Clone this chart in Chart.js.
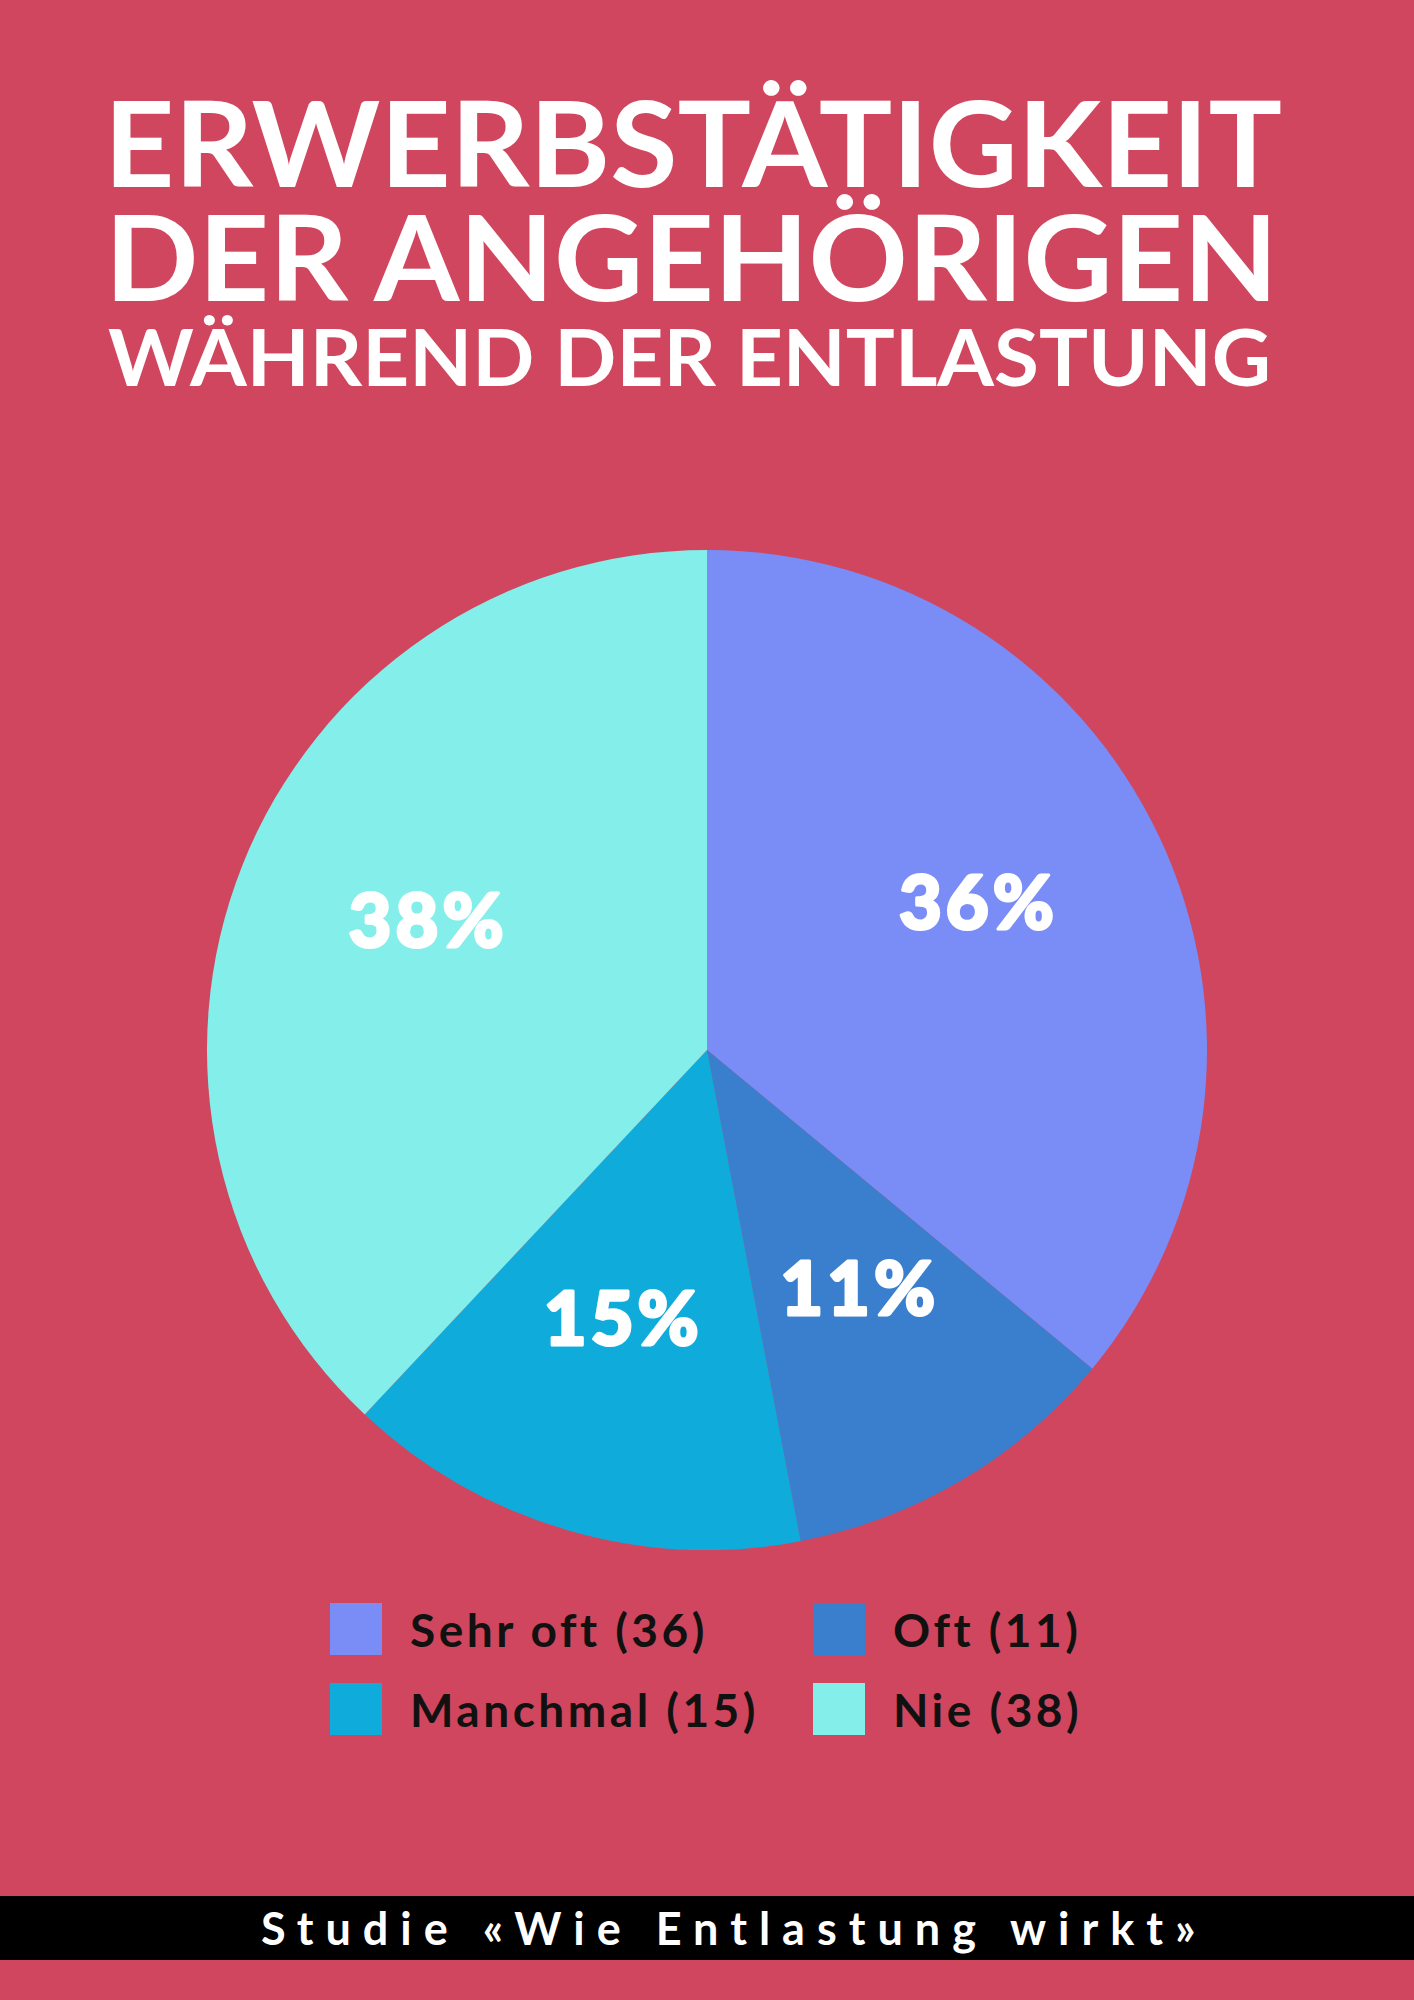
<!DOCTYPE html>
<html lang="de">
<head>
<meta charset="utf-8">
<title>Erwerbstätigkeit der Angehörigen während der Entlastung</title>
<script src="https://cdn.jsdelivr.net/npm/chart.js@4.4.1/dist/chart.umd.min.js"></script>
<style>
    html, body { margin: 0; padding: 0; }
    body {
        width: 1414px; height: 2000px; position: relative; overflow: hidden;
        background: #D0465E; font-family: Lato, 'Open Sans', sans-serif;
    }
    .title-line {
        position: absolute; left: 0; color: #fff; font-weight: 700;
        white-space: nowrap; line-height: 1; transform-origin: 0 0;
    }
    #chartBox { position: absolute; left: 207px; top: 550px; width: 1000px; height: 1000px; }
    .legend-item { position: absolute; height: 52px; display: flex; align-items: center; }
    .legend-item .box { width: 52px; height: 52px; margin-right: 28px; }
    .legend-item span {
        font-size: 46px; font-weight: 700; color: #111; white-space: nowrap; letter-spacing: 3.5px;
    }
    #footer {
        position: absolute; left: 0; top: 1896px; width: 1414px; height: 64px; background: #000;
    }
    #footer span {
        position: absolute; left: 261px; top: 0; line-height: 64px; color: #fff;
        font-size: 45px; font-weight: 700; letter-spacing: 12px; white-space: nowrap;
    }
</style>
</head>
<body>
<div id="title"></div>
<div id="chartBox"><canvas id="pieChart"></canvas></div>
<div id="legend"></div>
<div id="footer"><span>Studie «Wie Entlastung wirkt»</span></div>

<script>
// Daten
const categories = ['Sehr oft', 'Oft', 'Manchmal', 'Nie'];
const counts = [36, 11, 15, 38];
const percents = [36, 11, 15, 38];
const colors = ['#7A8CF5', '#3A7FCD', '#0FABDB', '#83EEEA'];

const titleLines = ['ERWERBSTÄTIGKEIT', 'DER ANGEHÖRIGEN', 'WÄHREND DER ENTLASTUNG'];

// Titel: Zeilen auf Breite strecken
const titleSpecs = [
    { top: 98, cap: 86, left: 104, right: 1282 },
    { top: 212, cap: 86, left: 105, right: 1278 },
    { top: 327, cap: 57, left: 108, right: 1271 }
];
const titleEl = document.getElementById('title');
titleLines.forEach((txt, i) => {
    const s = titleSpecs[i];
    const fs = s.cap / 0.72;
    const d = document.createElement('div');
    d.className = 'title-line';
    d.textContent = txt;
    d.style.fontSize = fs + 'px';
    titleEl.appendChild(d);
    const w = d.getBoundingClientRect().width;
    const sx = (s.right - s.left) / w;
    d.style.top = (s.top - fs * 0.14) + 'px';
    d.style.left = s.left + 'px';
    d.style.transform = 'scaleX(' + sx + ')';
});

// Legende (2 Spalten)
const legendPos = [[330, 1603], [813, 1603], [330, 1683], [813, 1683]];
const legendEl = document.getElementById('legend');
categories.forEach((c, i) => {
    const item = document.createElement('div');
    item.className = 'legend-item';
    item.style.left = legendPos[i][0] + 'px';
    item.style.top = legendPos[i][1] + 'px';
    item.innerHTML = '<div class="box" style="background:' + colors[i] + '"></div><span>' + c + ' (' + counts[i] + ')</span>';
    legendEl.appendChild(item);
});

// Prozent-Beschriftung in den Segmenten
const sliceLabels = {
    id: 'sliceLabels',
    afterDatasetsDraw(chart) {
        const ctx = chart.ctx;
        const meta = chart.getDatasetMeta(0);
        ctx.save();
        ctx.fillStyle = '#fff';
        ctx.strokeStyle = '#fff';
        ctx.lineWidth = 3;
        ctx.lineJoin = 'round';
        ctx.font = '900 74px Lato, sans-serif';
        ctx.letterSpacing = '4px';
        ctx.textAlign = 'center';
        ctx.textBaseline = 'alphabetic';
        meta.data.forEach((arc, i) => {
            const p = arc.getProps(['x', 'y', 'startAngle', 'endAngle', 'outerRadius'], true);
            const mid = (p.startAngle + p.endAngle) / 2;
            const r = p.outerRadius * 0.6;
            const txt = percents[i] + '%';
            const m = ctx.measureText(txt);
            const cx = p.x + Math.cos(mid) * r;
            const cy = p.y + Math.sin(mid) * r - 20;
            const by = cy + (m.actualBoundingBoxAscent - m.actualBoundingBoxDescent) / 2;
            ctx.fillText(txt, cx, by);
            ctx.strokeText(txt, cx, by);
        });
        ctx.restore();
    }
};

new Chart(document.getElementById('pieChart'), {
    type: 'pie',
    data: {
        labels: categories,
        datasets: [{
            data: percents,
            backgroundColor: colors,
            borderWidth: 0
        }]
    },
    options: {
        responsive: true,
        maintainAspectRatio: false,
        animation: false,
        layout: { padding: 0 },
        plugins: {
            legend: { display: false },
            tooltip: { enabled: false }
        }
    },
    plugins: [sliceLabels]
});
</script>
</body>
</html>
